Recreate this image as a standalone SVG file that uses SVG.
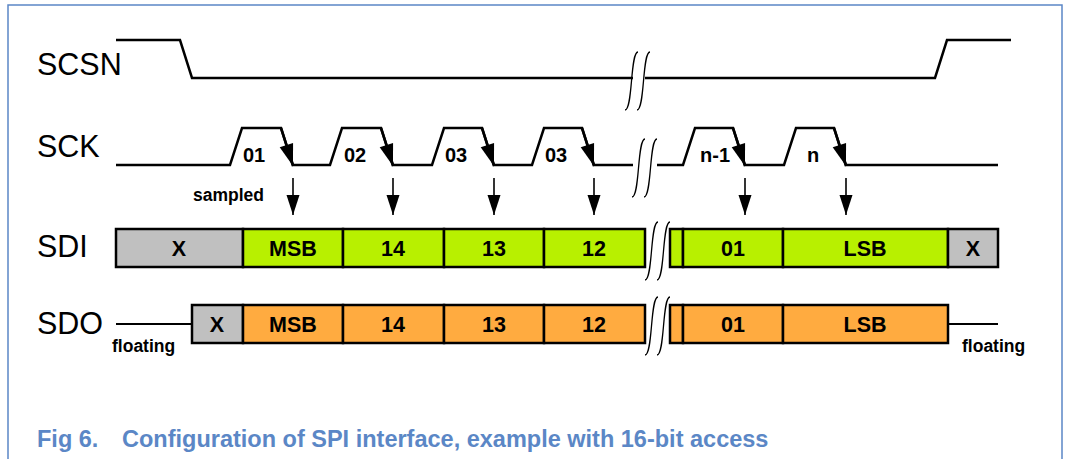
<svg xmlns="http://www.w3.org/2000/svg" width="1066" height="459" viewBox="0 0 1066 459">
  <style>
    .frame { fill: none; stroke: #5b87c6; stroke-width: 1.5; }
    .wave { fill: none; stroke: #000; stroke-width: 2.5; stroke-linejoin: miter; }
    .edge { fill: none; stroke: #000; stroke-width: 2.5; marker-end: url(#headBig); }
    .smp { fill: none; stroke: #000; stroke-width: 1.6; marker-end: url(#headSmall); }
    .brk { fill: none; stroke: #000; stroke-width: 1.3; }
    .sig { font-family: "Liberation Sans", Arial, sans-serif; font-size: 30.5px; fill: #000; }
    .lbl { font-family: "Liberation Sans", Arial, sans-serif; font-size: 20px; font-weight: bold; fill: #000; text-anchor: middle; }
    .cell { font-family: "Liberation Sans", Arial, sans-serif; font-size: 21.5px; font-weight: bold; fill: #000; text-anchor: middle; }
    .note { font-family: "Liberation Sans", Arial, sans-serif; font-size: 17.5px; font-weight: bold; fill: #000; }
    .cap { font-family: "Liberation Sans", Arial, sans-serif; font-size: 23.5px; font-weight: bold; fill: #5b87c6; }
    .x { fill: #c0c0c0; stroke: #000; stroke-width: 2.5; }
    .in { fill: #b8f000; stroke: #000; stroke-width: 2.5; }
    .out { fill: #ffab40; stroke: #000; stroke-width: 2.5; }
    .flt { fill: none; stroke: #000; stroke-width: 2; }
  </style>
  <defs>
    <marker id="headBig" markerUnits="userSpaceOnUse" markerWidth="24" markerHeight="16" viewBox="-23 -8 24 16" refX="0" refY="0" orient="auto">
      <path d="M0,0 L-22,-7 L-22,7 z" fill="#000"/>
    </marker>
    <marker id="headSmall" markerUnits="userSpaceOnUse" markerWidth="22" markerHeight="16" viewBox="-21 -8 22 16" refX="0" refY="0" orient="auto">
      <path d="M0,0 L-20,-6.5 L-20,6.5 z" fill="#000"/>
    </marker>
    <!-- break symbol: two long S-curves -->
    <path id="brk" d="M0,58 C8,58 5,0 13,0 M12,58 C20,58 17,0 25,0"/>
  </defs>

  <!-- page frame -->
  <path class="frame" d="M8,459 V5 H1062 V459"/>

  <!-- signal names -->
  <g id="names">
    <text class="sig" x="37" y="75">SCSN</text>
    <text class="sig" x="37" y="157">SCK</text>
    <text class="sig" x="37" y="257">SDI</text>
    <text class="sig" x="37" y="334">SDO</text>
  </g>

  <!-- SCSN waveform -->
  <g id="scsn">
    <polyline class="wave" points="116,40 180,40 192,78 633,78"/>
    <polyline class="wave" points="645,78 935,78 947,40 1011,40"/>
    <use href="#brk" class="brk" x="625" y="52"/>
  </g>

  <!-- SCK waveform -->
  <g id="sck">
    <polyline class="wave" points="116,165 230,165 242,128 281,128 293,165 330,165 342,128 381,128 393,165 432,165 444,128 482,128 494,165 532,165 544,128 582,128 594,165 633,165"/>
    <polyline class="wave" points="657,165 683,165 695,128 733,128 745,165 784,165 796,128 834,128 846,165 998,165"/>
    <use href="#brk" class="brk" x="632" y="139"/>
    <text class="lbl" x="254" y="162">01</text>
    <text class="lbl" x="355" y="162">02</text>
    <text class="lbl" x="456" y="162">03</text>
    <text class="lbl" x="556" y="162">03</text>
    <text class="lbl" x="715" y="162">n-1</text>
    <text class="lbl" x="813" y="162">n</text>
  </g>

  <!-- sampling edges and arrows -->
  <g id="connectors">
    <line class="edge" x1="281" y1="128" x2="293" y2="166"/>
    <line class="edge" x1="381" y1="128" x2="393" y2="166"/>
    <line class="edge" x1="482" y1="128" x2="494" y2="166"/>
    <line class="edge" x1="582" y1="128" x2="594" y2="166"/>
    <line class="edge" x1="733" y1="128" x2="745" y2="166"/>
    <line class="edge" x1="834" y1="128" x2="846" y2="166"/>
    <line class="smp" x1="293" y1="178" x2="293" y2="215"/>
    <line class="smp" x1="393" y1="178" x2="393" y2="215"/>
    <line class="smp" x1="494" y1="178" x2="494" y2="215"/>
    <line class="smp" x1="594" y1="178" x2="594" y2="215"/>
    <line class="smp" x1="745" y1="178" x2="745" y2="215"/>
    <line class="smp" x1="846" y1="178" x2="846" y2="215"/>
  </g>
  <text class="note" x="193" y="201">sampled</text>

  <!-- SDI data cells -->
  <g id="sdi">
    <rect class="x" x="116" y="229" width="127" height="38"/>
    <rect class="in" x="243" y="229" width="100" height="38"/>
    <rect class="in" x="343" y="229" width="101" height="38"/>
    <rect class="in" x="444" y="229" width="100" height="38"/>
    <rect class="in" x="544" y="229" width="101" height="38"/>
    <rect class="in" x="670" y="229" width="13" height="38"/>
    <rect class="in" x="683" y="229" width="100" height="38"/>
    <rect class="in" x="783" y="229" width="165" height="38"/>
    <rect class="x" x="948" y="229" width="50" height="38"/>
    <use href="#brk" class="brk" x="645" y="222"/>
    <text class="cell" x="179" y="256">X</text>
    <text class="cell" x="293" y="256">MSB</text>
    <text class="cell" x="393" y="256">14</text>
    <text class="cell" x="494" y="256">13</text>
    <text class="cell" x="594" y="256">12</text>
    <text class="cell" x="733" y="256">01</text>
    <text class="cell" x="865" y="256">LSB</text>
    <text class="cell" x="973" y="256">X</text>
  </g>

  <!-- SDO data cells -->
  <g id="sdo">
    <line class="flt" x1="116" y1="324" x2="192" y2="324"/>
    <line class="flt" x1="948" y1="324" x2="998" y2="324"/>
    <rect class="x" x="192" y="305" width="51" height="38"/>
    <rect class="out" x="243" y="305" width="100" height="38"/>
    <rect class="out" x="343" y="305" width="101" height="38"/>
    <rect class="out" x="444" y="305" width="100" height="38"/>
    <rect class="out" x="544" y="305" width="101" height="38"/>
    <rect class="out" x="670" y="305" width="13" height="38"/>
    <rect class="out" x="683" y="305" width="100" height="38"/>
    <rect class="out" x="783" y="305" width="165" height="38"/>
    <use href="#brk" class="brk" x="645" y="297"/>
    <text class="cell" x="217" y="332">X</text>
    <text class="cell" x="293" y="332">MSB</text>
    <text class="cell" x="393" y="332">14</text>
    <text class="cell" x="494" y="332">13</text>
    <text class="cell" x="594" y="332">12</text>
    <text class="cell" x="733" y="332">01</text>
    <text class="cell" x="865" y="332">LSB</text>
    <text class="note" x="112" y="352">floating</text>
    <text class="note" x="962" y="352">floating</text>
  </g>

  <!-- caption -->
  <text class="cap" x="37" y="447">Fig 6.</text>
  <text class="cap" x="122" y="447">Configuration of SPI interface, example with 16-bit access</text>
</svg>
